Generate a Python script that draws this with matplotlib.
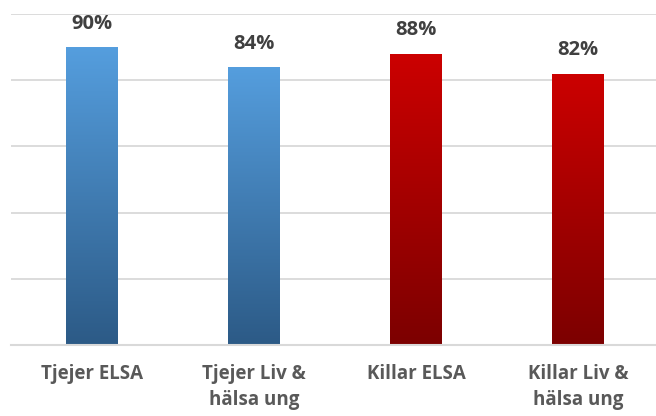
import numpy as np
import matplotlib
matplotlib.use('Agg')
import matplotlib.pyplot as plt
from matplotlib.colors import LinearSegmentedColormap
from matplotlib.patches import Rectangle

# data
categories = ['Tjejer ELSA', 'Tjejer Liv &\nhälsa ung', 'Killar ELSA', 'Killar Liv &\nhälsa ung']
values = [90, 84, 88, 82]
labels = ['90%', '84%', '88%', '82%']
top_colors = ['#559ede', '#559ede', '#cc0000', '#cc0000']
bottom_colors = ['#2c5a86', '#2c5a86', '#7c0000', '#7c0000']

plt.rcParams['font.family'] = ['Open Sans', 'DejaVu Sans']

fig = plt.figure(figsize=(6.56, 4.16), dpi=100)
ax = fig.add_axes([11 / 656, (416 - 345) / 416, 645 / 656, 331 / 416])

x = np.arange(len(categories))
width = 0.32
ax.set_xlim(-0.5, 3.48)
ax.set_ylim(0, 100)

# gridlines
for g in [20, 40, 60, 80, 100]:
    ax.axhline(g, color='#d9d9d9', lw=1.3, zorder=0)
ax.axhline(0, color='#d9d9d9', lw=1.5, zorder=3, clip_on=False)

# gradient bars
bars = ax.bar(x, values, width=width, color='none', zorder=2)
grad = np.linspace(0, 1, 256).reshape(-1, 1)
for bar, c_top, c_bot in zip(bars, top_colors, bottom_colors):
    cmap = LinearSegmentedColormap.from_list('g', [c_bot, c_top])
    x0, y0 = bar.get_x(), bar.get_y()
    w, h = bar.get_width(), bar.get_height()
    im = ax.imshow(grad, cmap=cmap, aspect='auto', origin='lower',
                   extent=[x0, x0 + w, y0, y0 + h], zorder=2)
    clip = Rectangle((x0, y0), w, h, transform=ax.transData)
    im.set_clip_path(clip)

# value labels
for xi, v, lab in zip(x, values, labels):
    ax.text(xi, v + 4, lab, ha='center', va='bottom', fontsize=14.5,
            fontweight='bold', color='#404040')

ax.set_xticks(x)
ax.set_xticklabels(categories, fontsize=13.5, fontweight='bold', color='#595959',
                   va='top', linespacing=1.4)
ax.tick_params(axis='x', length=0, pad=14)
ax.set_yticks([])
for s in ax.spines.values():
    s.set_visible(False)

fig.savefig('out.png', dpi=100)
